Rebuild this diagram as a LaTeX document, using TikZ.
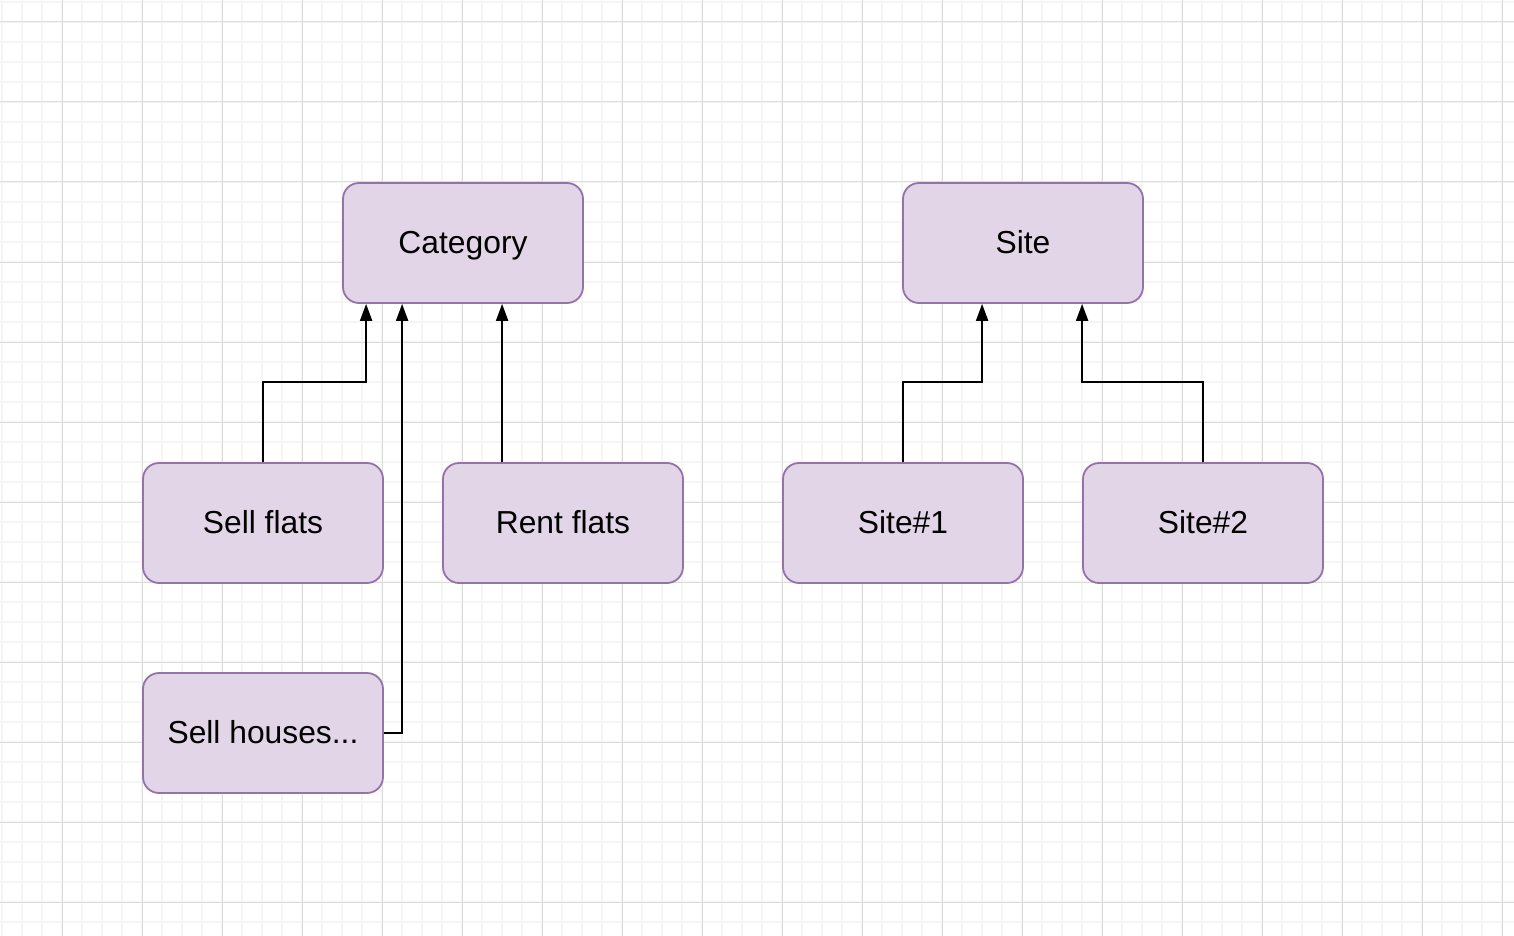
\documentclass[tikz,border=0pt]{standalone}
\usepackage{fontspec}
\setmainfont{Liberation Sans}
\usetikzlibrary{arrows.meta}
\definecolor{boxfill}{HTML}{E1D5E7}
\definecolor{boxline}{HTML}{9673A6}
\definecolor{gridminor}{HTML}{F5F5F5}
\definecolor{gridmajor}{HTML}{DCDCDC}
\tikzset{
  entity/.style={draw=boxline, fill=boxfill, line width=1.8pt, rounded corners=16pt,
    minimum width=240pt, minimum height=120pt, inner sep=0pt,
    font=\fontsize{31.8}{36}\selectfont, text height=21pt, text depth=1pt},
  arr/.style={line width=2.2pt, draw=black, -{Triangle[length=17pt,width=12pt]}}
}
\begin{document}
\begin{tikzpicture}[x=1pt,y=-1pt]
\useasboundingbox (0,0) rectangle (1514,936);
\fill[white] (0,0) rectangle (1514,936);
% minor grid
\foreach \i in {0,...,75} {\draw[gridminor, line width=1.2pt] (2+20*\i,0) -- (2+20*\i,936);}
\foreach \j in {0,...,46} {\draw[gridminor, line width=1.2pt] (0,2+20*\j) -- (1514,2+20*\j);}
% major grid
\foreach \i in {0,...,18} {\draw[gridmajor, line width=1pt] (62+80*\i,0) -- (62+80*\i,936);}
\foreach \j in {0,...,11} {\draw[gridmajor, line width=1pt] (0,22+80*\j) -- (1514,22+80*\j);}

\node[entity] (category) at (463,243) {Category};
\node[entity] (sellflats) at (263,523) {Sell flats};
\node[entity] (rentflats) at (563,523) {Rent flats};
\node[entity] (sellhouses) at (263,733) {Sell houses...};
\node[entity] (site) at (1023,243) {Site};
\node[entity] (site1) at (903,523) {Site\#1};
\node[entity] (site2) at (1203,523) {Site\#2};

\draw[arr] (sellflats.north) -- ++(0,-80) -| ([xshift=24pt]category.south west);
\draw[arr] (sellhouses.east) -| ([xshift=60pt]category.south west);
\draw[arr] ([xshift=60pt]rentflats.north west) -- ([xshift=160pt]category.south west);
\draw[arr] (site1.north) -- ++(0,-80) -| ([xshift=80pt]site.south west);
\draw[arr] (site2.north) -- ++(0,-80) -| ([xshift=180pt]site.south west);
\end{tikzpicture}
\end{document}
